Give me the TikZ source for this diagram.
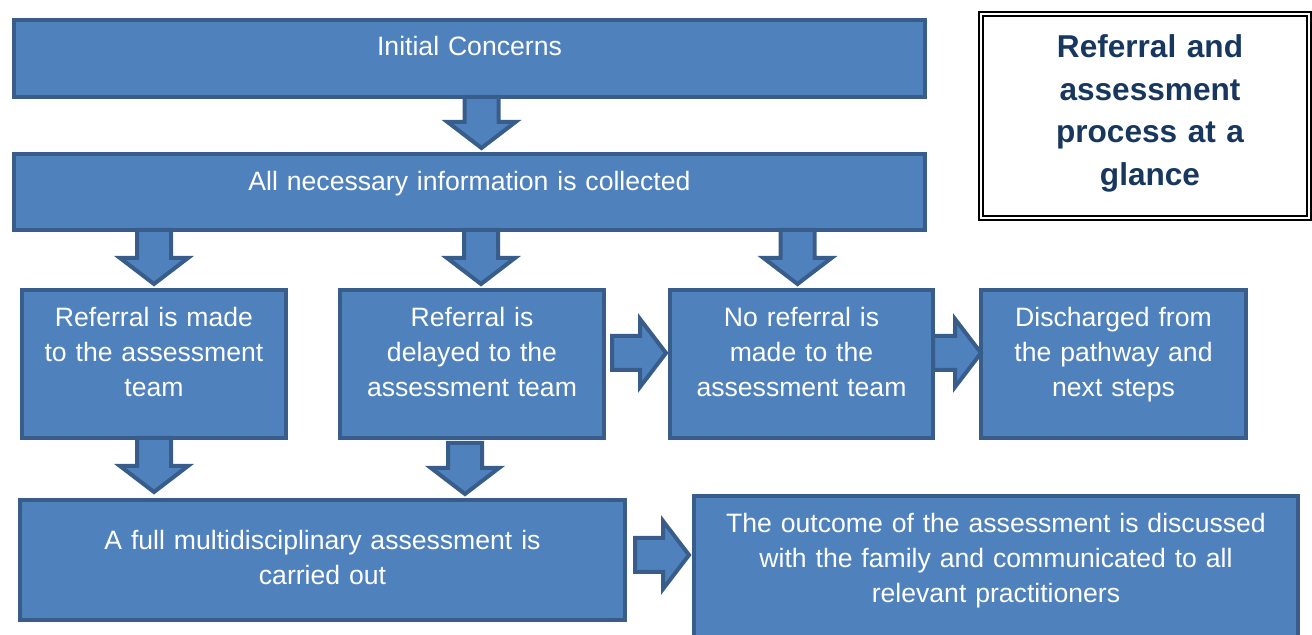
\documentclass[tikz,border=0pt]{standalone}
\usepackage{fontspec}
\setmainfont{Liberation Sans}
\usetikzlibrary{positioning,calc}
\definecolor{boxfill}{HTML}{4F81BD}
\definecolor{boxline}{HTML}{385D8A}
\definecolor{titlenavy}{HTML}{17375E}
\tikzstyle{block} = [rectangle, draw=boxline, fill=boxfill, line width=2pt, inner sep=0pt, outer sep=0pt, align=center, text=white, text height=18.5pt, font=\fontsize{13.3}{17.5}\selectfont]
\tikzstyle{titlebox} = [rectangle, draw=black, line width=0.9pt, double=white, double distance=1.2pt, inner sep=0pt, outer sep=0pt, align=center, text=titlenavy, font=\bfseries\fontsize{15.8}{21.25}\selectfont]
\tikzstyle{blockarrow} = [draw=boxline, fill=boxfill, line width=2pt, line join=miter]
% big outlined arrow from #1 to #2
\newcommand{\bigarrow}[2]{%
  \coordinate (s) at (#1);
  \coordinate (t) at (#2);
  \coordinate (h) at ($(t)!13pt!(s)$);
  \draw [blockarrow] ($(s)!8.5pt!90:(t)$) -- ($(h)!8.5pt!90:(t)$) -- ($(h)!17pt!90:(t)$) -- (t)
    -- ($(h)!17pt!-90:(t)$) -- ($(h)!8.5pt!-90:(t)$) -- ($(s)!8.5pt!-90:(t)$) -- cycle;
}

\begin{document}
\begin{tikzpicture}[x=0.5pt, y=-0.5pt]
    \useasboundingbox (0,0) rectangle (1312,635);
    % Place nodes
    \node [block, anchor=north west, text width=455.5pt, text height=18pt, text depth=20.5pt] (concern) at (14,20) {Initial Concerns};
    \node [block, below=28.5pt of concern, text width=455.5pt, text depth=19.5pt] (info) {All necessary information is collected};
    \node [block, below right=30pt and 4pt of info.south west, text width=132pt, text depth=55.5pt] (made) {Referral is made\\to the assessment\\team};
    \node [block, right=27pt of made, text width=132pt, text depth=55.5pt] (delayed) {Referral is\\delayed to the\\assessment team};
    \node [block, right=33pt of delayed, text width=131.5pt, text depth=55.5pt] (nomade) {No referral is\\made to the\\assessment team};
    \node [block, right=24pt of nomade, text width=132.5pt, text depth=55.5pt] (discharged) {Discharged from\\the pathway and\\next steps};
    \node [block, below right=31pt and -1pt of made.south west, text width=302.5pt, text height=25pt, text depth=35pt] (full) {A full multidisciplinary assessment is\\carried out};
    \node [block, right=34.5pt of full.north east, anchor=north west, yshift=2pt, text width=302pt, text depth=64.5pt] (outcome) {The outcome of the assessment is discussed\\with the family and communicated to all\\relevant practitioners};
    \node [titlebox, anchor=north west, text width=164pt, text height=22pt, text depth=80pt] (title) at (981,14) {\hspace*{5pt}Referral and\\\hspace*{5pt}assessment\\\hspace*{5pt}process at a\\\hspace*{5pt}glance};

    % Draw arrows
    \bigarrow{[xshift=6pt]concern.south}{[xshift=6pt,yshift=3pt]info.north}
    \bigarrow{made.north |- info.south}{[yshift=3pt]made.north}
    \bigarrow{[xshift=4.5pt]delayed.north |- info.south}{[xshift=4.5pt,yshift=3pt]delayed.north}
    \bigarrow{[xshift=-2pt]nomade.north |- info.south}{[xshift=-2pt,yshift=3pt]nomade.north}
    \bigarrow{[yshift=5.5pt,xshift=4pt]delayed.east}{[yshift=5.5pt,xshift=-2pt]nomade.west}
    \bigarrow{[yshift=5.5pt]nomade.east}{[yshift=5.5pt]discharged.west}
    \bigarrow{made.south}{[yshift=4pt]made.south |- full.north}
    \bigarrow{[xshift=-3.5pt,yshift=-2.5pt]delayed.south}{[xshift=-3.5pt,yshift=3pt]delayed.south |- full.north}
    \bigarrow{[xshift=5pt,yshift=2.5pt]full.east}{[xshift=-2.5pt,yshift=2.5pt]full.east -| outcome.west}

\end{tikzpicture}
\end{document}
